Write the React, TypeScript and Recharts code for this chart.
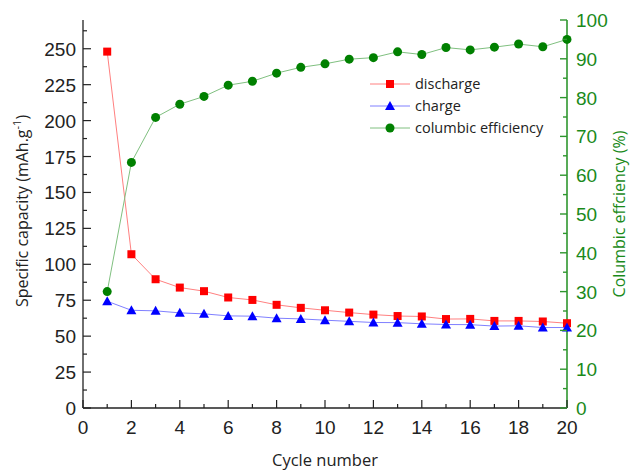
import { Legend, Line, LineChart, XAxis, YAxis } from "recharts";

// cycle number and readings
const cycles = [1, 2, 3, 4, 5, 6, 7, 8, 9, 10, 11, 12, 13, 14, 15, 16, 17, 18, 19, 20];
const discharge = [248, 107, 89.6, 83.8, 81.3, 76.9, 75.2, 71.8, 69.7, 68, 66.4, 65, 64, 63.7, 61.9, 62, 60.6, 60.6, 60.2, 59];
const charge = [74.3, 68, 67.6, 66.2, 65.5, 64.1, 63.9, 62.5, 62, 61.1, 60.3, 59.5, 59.4, 58.6, 58.1, 58, 57, 57.2, 56, 56];
const efficiency = [30, 63.3, 74.9, 78.3, 80.3, 83.2, 84.2, 86.3, 87.8, 88.7, 89.9, 90.3, 91.8, 91.1, 92.9, 92.3, 93, 93.8, 93.1, 95];

const xTicks = [0, 1, 2, 3, 4, 5, 6, 7, 8, 9, 10, 11, 12, 13, 14, 15, 16, 17, 18, 19, 20];
const capacityMajor = [0, 25, 50, 75, 100, 125, 150, 175, 200, 225, 250];
const capacityTicks = capacityMajor.flatMap((v) => [v, v + 12.5]);
const effMajor = [0, 10, 20, 30, 40, 50, 60, 70, 80, 90, 100];
const effTicks = [0, 5, 10, 15, 20, 25, 30, 35, 40, 45, 50, 55, 60, 65, 70, 75, 80, 85, 90, 95, 100];

const rows = cycles.map((c, i) => ({
  cycle: c,
  discharge: discharge[i],
  charge: charge[i],
  efficiency: efficiency[i],
}));

const series = [
  { key: "discharge", name: "discharge", axis: "left", marker: "square", fill: "#ff0000", line: "#ff8080" },
  { key: "charge", name: "charge", axis: "left", marker: "triangle", fill: "#0000ff", line: "#8080ff" },
  { key: "efficiency", name: "columbic efficiency", axis: "right", marker: "circle", fill: "#008000", line: "#80c080" },
];

const INK = "#222";
const GREEN = "#2e962e";
const GREEN_TEXT = "#1a8a1a";
const TICK_FONT = "'Liberation Sans', Arial, sans-serif";
const LABEL_FONT = "'Open Sans', 'Noto Sans', sans-serif";

function Marker({ kind, cx, cy, fill }: { kind: string; cx: number; cy: number; fill: string }) {
  if (kind === "square") return <rect x={cx - 4} y={cy - 4} width={8} height={8} fill={fill} />;
  if (kind === "triangle")
    return <polygon points={`${cx},${cy - 5} ${cx + 5},${cy + 4} ${cx - 5},${cy + 4}`} fill={fill} />;
  return <circle cx={cx} cy={cy} r={4.5} fill={fill} />;
}

function BottomTick({ x, y, payload }: any) {
  const major = payload.value % 2 === 0;
  return (
    <g>
      <line x1={x} x2={x} y1={y} y2={y - (major ? 8 : 4)} stroke={INK} strokeWidth={1.2} />
      {major && (
        <text x={x} y={y + 26} textAnchor="middle" fontFamily={TICK_FONT} fontSize={19} fill={INK}>
          {payload.value}
        </text>
      )}
    </g>
  );
}

function TopTick({ x, y, payload }: any) {
  const major = payload.value % 2 === 0;
  return <line x1={x} x2={x} y1={y} y2={y + (major ? 8 : 4)} stroke={INK} strokeWidth={1.2} />;
}

function LeftTick({ x, y, payload }: any) {
  const major = capacityMajor.includes(payload.value);
  return (
    <g>
      <line x1={x} x2={x + (major ? 8 : 4)} y1={y} y2={y} stroke={INK} strokeWidth={1.2} />
      {major && (
        <text x={x - 7} y={y + 7} textAnchor="end" fontFamily={TICK_FONT} fontSize={19} fill={INK}>
          {payload.value}
        </text>
      )}
    </g>
  );
}

function RightTick({ x, y, payload }: any) {
  const major = effMajor.includes(payload.value);
  return (
    <g>
      <line x1={x} x2={x - (major ? 7 : 4)} y1={y} y2={y} stroke={GREEN} strokeWidth={1.4} />
      {major && (
        <text x={x + 9} y={y + 7} textAnchor="start" fontFamily={TICK_FONT} fontSize={19} fill={GREEN_TEXT}>
          {payload.value}
        </text>
      )}
    </g>
  );
}

function CapacityLabel({ viewBox }: any) {
  const cx = viewBox.x + 22;
  const cy = viewBox.y + viewBox.height / 2 - 3;
  return (
    <text
      x={cx}
      y={cy}
      transform={`rotate(-90, ${cx}, ${cy})`}
      textAnchor="middle"
      dominantBaseline="central"
      fontFamily={LABEL_FONT}
      fontSize={16}
      fill={INK}
    >
      Specific capacity (mAh.g
      <tspan fontSize={11} dy={-6}>-1</tspan>
      <tspan dy={6}>)</tspan>
    </text>
  );
}

function EfficiencyLabel({ viewBox }: any) {
  const cx = viewBox.x + 52;
  const cy = viewBox.y + viewBox.height / 2;
  return (
    <text
      x={cx}
      y={cy}
      transform={`rotate(-90, ${cx}, ${cy})`}
      textAnchor="middle"
      dominantBaseline="central"
      fontFamily={LABEL_FONT}
      fontSize={16}
      fill={GREEN_TEXT}
    >
      Columbic effciency (%)
    </text>
  );
}

function CycleLabel({ viewBox }: any) {
  return (
    <text
      x={viewBox.x + viewBox.width / 2}
      y={viewBox.y + 58}
      textAnchor="middle"
      fontFamily={LABEL_FONT}
      fontSize={16.5}
      fill={INK}
    >
      Cycle number
    </text>
  );
}

function LegendBox() {
  return (
    <svg width={200} height={70}>
      {series.map((s, i) => {
        const y = 10 + i * 22;
        return (
          <g key={s.key}>
            <line x1={2} x2={42} y1={y} y2={y} stroke={s.line} strokeWidth={1} />
            <Marker kind={s.marker} cx={22} cy={y} fill={s.fill} />
            <text x={47} y={y + 5} fontFamily={LABEL_FONT} fontSize={14.5} fill={INK}>
              {s.name}
            </text>
          </g>
        );
      })}
    </svg>
  );
}

export default function App() {
  return (
    <div style={{ position: "absolute", left: 0, top: 0 }}>
      <LineChart width={636} height={471} data={rows} margin={{ top: 20, right: 0, bottom: 0, left: 0 }}>
        <XAxis
          dataKey="cycle"
          type="number"
          domain={[0, 20]}
          ticks={xTicks}
          interval={0}
          height={63}
          tickSize={0}
          tickMargin={0}
          tick={<BottomTick />}
          axisLine={{ stroke: INK, strokeWidth: 1.3 }}
          label={{ content: (p: any) => <CycleLabel viewBox={p.viewBox} /> }}
        />
        <XAxis
          xAxisId="top"
          orientation="top"
          dataKey="cycle"
          type="number"
          domain={[0, 20]}
          ticks={xTicks}
          interval={0}
          height={0}
          tickSize={0}
          tickMargin={0}
          tick={<TopTick />}
          axisLine={{ stroke: INK, strokeWidth: 1.3 }}
        />
        <YAxis
          yAxisId="left"
          type="number"
          domain={[0, 270]}
          ticks={capacityTicks}
          interval={0}
          width={83}
          tickSize={0}
          tickMargin={0}
          tick={<LeftTick />}
          axisLine={{ stroke: INK, strokeWidth: 1.3 }}
          label={{ content: (p: any) => <CapacityLabel viewBox={p.viewBox} /> }}
        />
        <YAxis
          yAxisId="right"
          orientation="right"
          type="number"
          domain={[0, 100]}
          ticks={effTicks}
          interval={0}
          width={69}
          tickSize={0}
          tickMargin={0}
          tick={<RightTick />}
          axisLine={{ stroke: GREEN, strokeWidth: 1.6 }}
          label={{ content: (p: any) => <EfficiencyLabel viewBox={p.viewBox} /> }}
        />
        {series.map((s) => (
          <Line
            key={s.key}
            yAxisId={s.axis}
            dataKey={s.key}
            name={s.name}
            type="linear"
            stroke={s.line}
            strokeWidth={1}
            isAnimationActive={false}
            dot={(p: any) => <Marker key={`${s.key}-${p.index}`} kind={s.marker} cx={p.cx} cy={p.cy} fill={s.fill} />}
            activeDot={false}
          />
        ))}
        <Legend
          layout="horizontal"
          verticalAlign="middle"
          align="center"
          content={() => <LegendBox />}
          wrapperStyle={{ position: "absolute", left: 368, top: 74, width: 200, height: 70 }}
        />
      </LineChart>
    </div>
  );
}
